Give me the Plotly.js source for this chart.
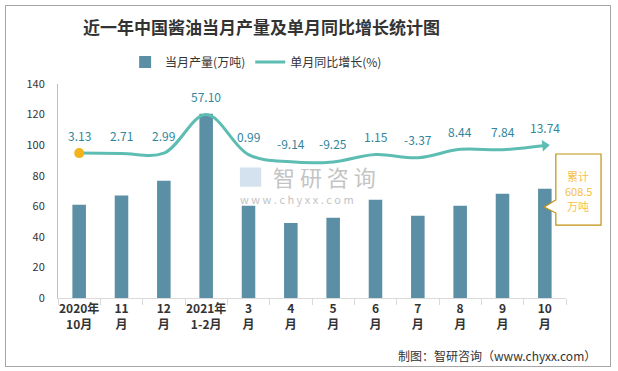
<!DOCTYPE html>
<html>
<head>
<meta charset="utf-8">
<script src="https://cdn.plot.ly/plotly-3.0.1.min.js"></script>
<style>
html,body{margin:0;padding:0;background:#fff;}
#wrap{position:absolute;left:5px;top:5px;width:606px;height:362px;border:1px solid #a6a6a6;box-sizing:border-box;}
#chart{position:absolute;left:0;top:0;width:618px;height:371px;}
</style>
</head>
<body>
<div id="wrap"></div>
<div id="chart"></div>
<script>
var categories = ["2020年<br>10月","11<br>月","12<br>月","2021年<br>1-2月","3<br>月","4<br>月","5<br>月","6<br>月","7<br>月","8<br>月","9<br>月","10<br>月"];
var output = [61.0, 67.0, 76.7, 120.6, 60.3, 49.0, 52.5, 64.3, 53.8, 60.3, 68.2, 71.5];
var growth = [3.13, 2.71, 2.99, 57.10, 0.99, -9.14, -9.25, 1.15, -3.37, 8.44, 7.84, 13.74];
var growthLabels = ["3.13","2.71","2.99","57.10","0.99","-9.14","-9.25","1.15","-3.37","8.44","7.84","13.74"];
var totalLines = ["累计","608.5","万吨"];

var font = "'Noto Sans CJK SC', 'Noto Sans', sans-serif";
var n = categories.length;

var traces = [
  {type:'bar', x:categories, y:output, name:'当月产量(万吨)', marker:{color:'#5b8fa6'}, width:0.32},
  {type:'scatter', mode:'lines', x:categories, y:growth, yaxis:'y2', name:'单月同比增长(%)',
   line:{color:'#5dbdb2', width:3, shape:'spline', smoothing:1}},
  {type:'scatter', mode:'markers', x:[categories[0]], y:[growth[0]], yaxis:'y2', showlegend:false,
   marker:{size:10, symbol:'circle', color:'#f5b31b'}},
  {type:'scatter', mode:'markers', x:[categories[n-1]], y:[growth[n-1]], yaxis:'y2', showlegend:false,
   marker:{size:10, symbol:'triangle-right', color:'#5dbdb2', angle:-6, line:{width:0}}}
];

var annotations = growth.map(function(v,i){
  return {x:categories[i], y:v, xref:'x', yref:'y2', text:growthLabels[i], showarrow:false,
    yshift:18, font:{family:font, size:12, color:'#31859c'}};
});
var tY = [0.572, 0.5, 0.428];
totalLines.forEach(function(t,i){
  annotations.push({xref:'paper', yref:'paper', x:1.024, y:tY[i], text:t, showarrow:false,
    font:{family:font, size:11, color:'#f7c04a'}, yanchor:'middle', xanchor:'center'});
});
annotations.push({xref:'paper', yref:'paper', x:0.42, y:0.572, text:'智 研 咨 询', showarrow:false,
  font:{family:font, size:22, color:'#c4c4c4'}, xanchor:'left', yanchor:'middle'});
annotations.push({xref:'paper', yref:'paper', x:0.355, y:0.462, text:'w w w . c h y x x . c o m', showarrow:false,
  font:{family:font, size:11, color:'#c4c4c4'}, xanchor:'left', yanchor:'middle'});
annotations.push({xref:'paper', yref:'paper', x:1.063, y:-0.268, text:'制图：智研咨询（www.chyxx.com）', showarrow:false,
  xanchor:'right', yanchor:'middle', font:{family:"'Noto Sans CJK SC', sans-serif", size:12, color:'#333'}});

var shapes = [
  {type:'path', xref:'paper', yref:'paper',
   path:'M 0.980 0.673 L 1.069 0.673 L 1.069 0.341 L 0.980 0.341 L 0.980 0.397 L 0.957 0.425 L 0.980 0.458 Z',
   line:{color:'#c0900f', width:1.2}, fillcolor:'#ffffff'},
  {type:'rect', xref:'paper', yref:'paper', x0:0.358, x1:0.400, y0:0.52, y1:0.61,
   line:{width:0}, fillcolor:'#c9d9ea', opacity:0.8}
];

var layout = {
  width:618, height:371,
  margin:{l:58, r:52, t:84, b:73},
  paper_bgcolor:'rgba(0,0,0,0)', plot_bgcolor:'rgba(0,0,0,0)',
  title:{text:'<b>近一年中国酱油当月产量及单月同比增长统计图</b>', xref:'container', x:0.423, xanchor:'center', yref:'container', y:0.925, yanchor:'middle',
    font:{family:"'Noto Sans CJK SC', serif", size:17, color:'#333'}},
  showlegend:true,
  legend:{orientation:'h', x:0.39, xanchor:'center', y:1.103, yanchor:'middle',
    font:{family:font, size:12, color:'#333'}, bgcolor:'rgba(0,0,0,0)'},
  xaxis:{type:'category', range:[-0.5, n-0.5], autorange:false, showline:true, linecolor:'#d9d9d9', linewidth:1, ticks:'outside', tickson:'boundaries',
    ticklen:6, tickcolor:'#d9d9d9', showgrid:false, tickangle:0,
    tickfont:{family:font, size:12, color:'#333', weight:'bold'}},
  yaxis:{range:[0,140], dtick:20, showline:true, linecolor:'#bfbfbf', linewidth:1, showgrid:false, zeroline:false,
    ticks:'', ticklabelstandoff:10, tickfont:{family:font, size:11, color:'#333'}},
  yaxis2:{overlaying:'y', side:'right', range:[-200,100], visible:false, showgrid:false, zeroline:false},
  annotations:annotations,
  shapes:shapes
};

Plotly.newPlot('chart', traces, layout, {displayModeBar:false, staticPlot:true});
</script>
</body>
</html>
